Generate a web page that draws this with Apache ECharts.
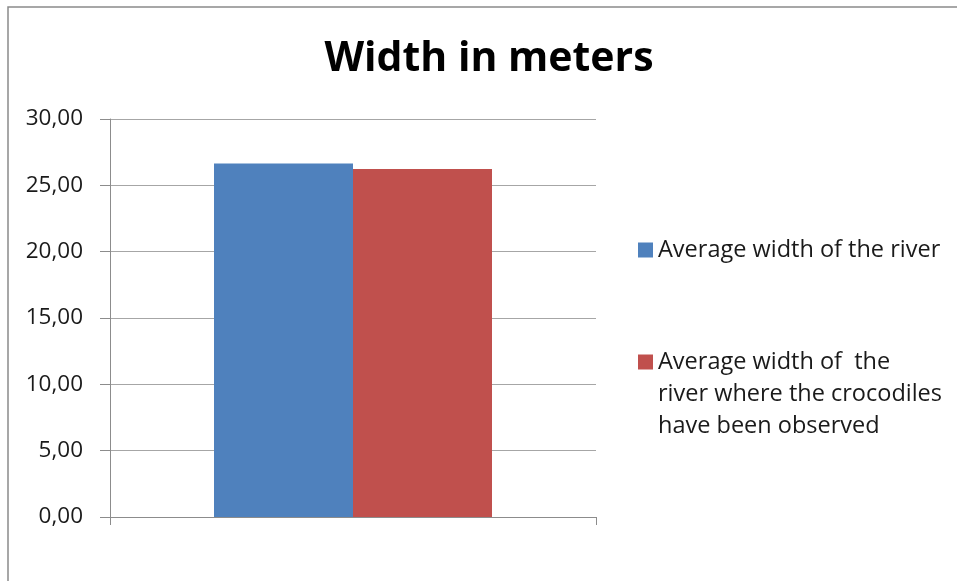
<!DOCTYPE html>
<html>
<head>
<meta charset="utf-8">
<script src="https://cdn.jsdelivr.net/npm/echarts@6/dist/echarts.min.js"></script>
<style>
  html, body { margin: 0; padding: 0; background: #fff; }
  #chart { width: 957px; height: 581px; }
</style>
</head>
<body>
<div id="chart"></div>
<script>
// Chart data
const titleText = 'Width in meters';
const categories = [''];
const seriesNames = [
  'Average width of the river',
  'Average width of  the river where the crocodiles have been observed'
];
const riverWidth = [26.65];
const crocodileWidth = [26.24];
const yTicks = { min: 0, max: 30, step: 5 };

// Legend text broken over lines; the leading blank lines keep the marker beside the first line
const legendLabels = {};
legendLabels[seriesNames[0]] = 'Average width of the river';
legendLabels[seriesNames[1]] = '\n\nAverage width of  the\nriver where the crocodiles\nhave been observed';

const font = '"Open Sans", "Liberation Sans", sans-serif';
const chart = echarts.init(document.getElementById('chart'), null, { renderer: 'canvas' });

chart.setOption({
  animation: false,
  backgroundColor: '#ffffff',
  title: {
    text: titleText,
    left: 484,
    top: 34,
    textAlign: 'center',
    textStyle: { fontFamily: font, fontSize: 41, fontWeight: 'bold', color: '#000000' }
  },
  graphic: [{
    type: 'rect',
    silent: true,
    shape: { x: 8, y: 7, width: 1200, height: 1200 },
    style: { fill: 'none', stroke: '#8a8a8a', lineWidth: 1.5 }
  }],
  legend: {
    orient: 'vertical',
    left: 638,
    top: 234,
    padding: 0,
    itemGap: 16,
    itemWidth: 15,
    itemHeight: 15,
    icon: 'rect',
    formatter: name => legendLabels[name],
    textStyle: { fontFamily: font, fontSize: 23.5, lineHeight: 32, color: '#1a1a1a' },
    data: seriesNames
  },
  grid: { left: 110, right: 361, top: 119, bottom: 64 },
  xAxis: {
    type: 'category',
    data: categories,
    axisLine: { show: true, lineStyle: { color: '#8c8c8c', width: 1 } },
    axisTick: { show: true, length: 8, lineStyle: { color: '#8c8c8c' } },
    axisLabel: { show: false },
    splitLine: { show: false }
  },
  yAxis: {
    type: 'value',
    min: yTicks.min,
    max: yTicks.max,
    interval: yTicks.step,
    axisLine: { show: true, lineStyle: { color: '#8c8c8c', width: 1 } },
    axisTick: { show: true, length: 10, lineStyle: { color: '#8c8c8c' } },
    axisLabel: {
      margin: 27,
      fontFamily: font,
      fontSize: 22.5,
      color: '#1a1a1a',
      formatter: v => v.toFixed(2).replace('.', ',')
    },
    splitLine: { show: true, lineStyle: { color: '#a6a6a6', width: 1 } }
  },
  series: [
    {
      name: seriesNames[0],
      type: 'bar',
      data: riverWidth,
      barWidth: 139,
      barGap: '0%',
      itemStyle: { color: '#4F81BD' }
    },
    {
      name: seriesNames[1],
      type: 'bar',
      data: crocodileWidth,
      barWidth: 139,
      barGap: '0%',
      itemStyle: { color: '#C0504D' }
    }
  ]
});
</script>
</body>
</html>
